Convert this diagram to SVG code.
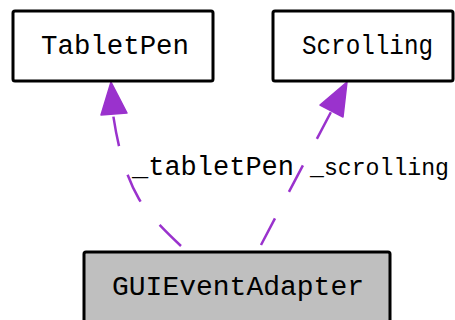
<svg xmlns="http://www.w3.org/2000/svg" width="455" height="320" viewBox="0 0 455 320">
<style>
.box{stroke:#000;stroke-width:3;}
.lbl{font-family:"Liberation Mono","Courier New",monospace;font-size:27px;fill:#000;}
.edge{fill:none;stroke:#9a32cd;stroke-width:2.5;stroke-dasharray:30,30;}
.head{fill:#9a32cd;stroke:#9a32cd;stroke-width:1.5;stroke-linejoin:round;}
</style>
<rect width="455" height="320" fill="#fff"/>
<g id="connectors">
  <g id="edge-tabletpen">
    <path class="edge" d="M181,246 C165,231 148,214 139,199 C128,180 119,155 113,114"/>
    <polygon class="head" points="111,82 101,115 127,113"/>
    <text class="lbl" x="213" y="175" text-anchor="middle" textLength="162" lengthAdjust="spacingAndGlyphs">_tabletPen</text>
  </g>
  <g id="edge-scrolling">
    <path class="edge" d="M261,245 L331,112"/>
    <polygon class="head" points="347,82 320,105 343,117"/>
    <text class="lbl" x="310" y="175" style="font-size:24px" textLength="139" lengthAdjust="spacingAndGlyphs">_scrolling</text>
  </g>
</g>
<g id="node-tabletpen">
  <rect class="box" x="13" y="11" width="200" height="70" rx="2" fill="#fff"/>
  <text class="lbl" x="115" y="54" text-anchor="middle" textLength="148" lengthAdjust="spacingAndGlyphs">TabletPen</text>
</g>
<g id="node-scrolling">
  <rect class="box" x="273" y="11" width="180" height="70" rx="2" fill="#fff"/>
  <text class="lbl" x="367.5" y="54" text-anchor="middle" textLength="131" lengthAdjust="spacingAndGlyphs">Scrolling</text>
</g>
<g id="node-guieventadapter">
  <rect class="box" x="84" y="252" width="306" height="90" rx="2" fill="#bfbfbf"/>
  <text class="lbl" x="238" y="295" text-anchor="middle" textLength="252" lengthAdjust="spacingAndGlyphs">GUIEventAdapter</text>
</g>
</svg>
